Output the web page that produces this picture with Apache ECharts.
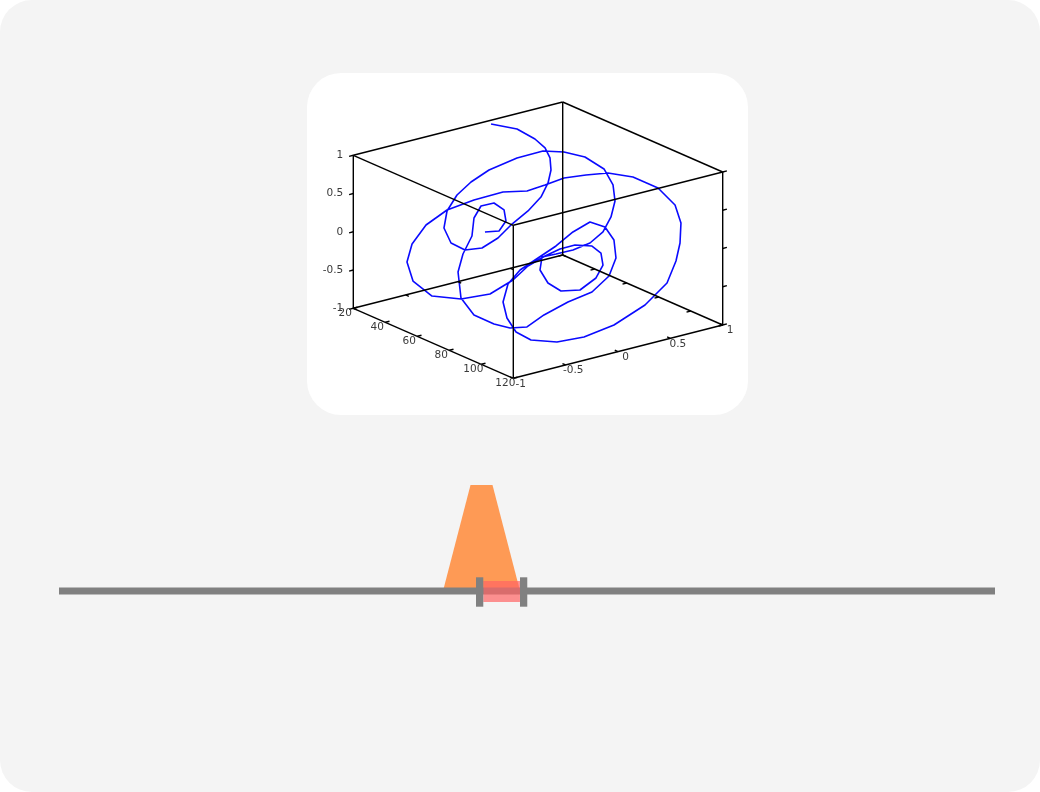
<!DOCTYPE html>
<html><head><meta charset="utf-8">
<script src="https://cdn.jsdelivr.net/npm/echarts@6/dist/echarts.min.js"></script>
<style>html,body{margin:0;padding:0;background:#ffffff}#c{width:1040px;height:792px}</style>
</head><body><div id="c"></div>
<script>
// ---------- data ----------
const xRange = [20, 120];
const yRange = [-1, 1];
const zRange = [-1, 1];
const xTicks = [20, 40, 60, 80, 100, 120];
const yTicks = [-1, -0.5, 0, 0.5, 1];
const zTicks = [-1, -0.5, 0, 0.5, 1];
const xTickLabels = ['20', '40', '60', '80', '100', '120'];
const yTickLabels = ['-1', '-0.5', '0', '0.5', '1'];
const zTickLabels = ['-1', '-0.5', '0', '0.5', '1'];

const curveX = [22,27,34,39,44,49,55,60,65,69, 65,60,55,50,48,49,50,46,42,40,
  40,43,54,68,79,86,85,83,79,73, 70,70,74,81,86,88,84,83,82,79,
  74,70,70,71,75,72,62,48,39,37, 38,43,49,54,54,56,55,55,63,71,
  84,100,105,107,107,105,103,102,108,110, 109,105,99,90,81,75,72,70,70,73,
  79,83,86,87,85,90,92,95,98,96, 87,75,61,53,54,57,58,58,58,62, 67,66,61];
const curveY = [0.285,0.457,0.521,0.541,0.512,0.445,0.325,0.181,-0.019,-0.233,
  -0.306,-0.382,-0.468,-0.525,-0.562,-0.548,-0.468,-0.273,-0.040,0.258,
  0.506,0.661,0.693,0.661,0.579,0.491,0.468,0.422,0.359,0.288,
  0.172,0.038,-0.042,-0.073,-0.025,0.126,0.340,0.422,0.418,0.378,
  0.292,0.210,0.067,-0.111,-0.315,-0.489,-0.613,-0.676,-0.720,-0.747,
  -0.714,-0.657,-0.548,-0.367,-0.090,0.109,0.296,0.478,0.565,0.653,
  0.693,0.688,0.774,0.800,0.791,0.783,0.728,0.533,0.145,-0.172,
  -0.415,-0.602,-0.653,-0.602,-0.502,-0.363,-0.202,0.000,0.172,0.288,
  0.359,0.441,0.481,0.485,0.449,0.210,-0.050,-0.325,-0.533,-0.665,
  -0.680,-0.688,-0.598,-0.504,-0.472,-0.432,-0.428,-0.361,-0.237,-0.202,
  -0.260,-0.311,-0.369];
const curveZ = [0.980,0.900,0.811,0.733,0.658,0.570,0.497,0.409,0.342,0.283,
  0.089,-0.061,-0.103,-0.037,0.153,0.380,0.570,0.636,0.675,0.710,
  0.715,0.675,0.699,0.682,0.602,0.487,0.277,0.079,-0.080,-0.202,
  -0.241,-0.234,-0.339,-0.434,-0.510,-0.531,-0.485,-0.353,-0.204,-0.126,
  -0.129,-0.189,-0.230,-0.290,-0.365,-0.515,-0.629,-0.696,-0.567,-0.327,
  -0.094,0.180,0.393,0.506,0.514,0.477,0.481,0.509,0.591,0.659,
  0.712,0.717,0.510,0.284,0.026,-0.225,-0.512,-0.740,-0.812,-0.840,
  -0.830,-0.775,-0.708,-0.625,-0.533,-0.401,-0.301,-0.233,-0.136,0.034,
  0.195,0.137,-0.019,-0.247,-0.488,-0.568,-0.590,-0.636,-0.693,-0.679,
  -0.704,-0.693,-0.630,-0.396,-0.163,0.086,0.329,0.462,0.458,0.392,
  0.313,0.192,0.153];

const sliderTrack = [0, 1];
const sliderWindow = [0.4533, 0.4925];
const sliderCone = [0.4514];

// ---------- view (orthographic projection of the 3D box) ----------
const VIEW = { ox: 353.3, oy: 308.3, ex: [160, 70], ey: [209.4, -53.3], ez: [0, -153] };
function project(x, y, z) {
  const fx = (x - xRange[0]) / (xRange[1] - xRange[0]);
  const fy = (y - yRange[0]) / (yRange[1] - yRange[0]);
  const fz = (z - zRange[0]) / (zRange[1] - zRange[0]);
  return [VIEW.ox + fx * VIEW.ex[0] + fy * VIEW.ey[0] + fz * VIEW.ez[0],
          VIEW.oy + fx * VIEW.ex[1] + fy * VIEW.ey[1] + fz * VIEW.ez[1]];
}

// box edges
const edges = [];
const X = xRange, Y = yRange, Z = zRange;
for (const y of Y) for (const z of Z) edges.push([project(X[0], y, z), project(X[1], y, z)]);
for (const x of X) for (const z of Z) edges.push([project(x, Y[0], z), project(x, Y[1], z)]);
for (const x of X) for (const y of Y) edges.push([project(x, y, Z[0]), project(x, y, Z[1])]);

// ticks
const tlx = 0.02 * (X[1] - X[0]), tly = 0.02 * (Y[1] - Y[0]);
const ticks = [];
xTicks.forEach(t => {
  ticks.push([project(t, Y[0], Z[0]), project(t, Y[0] + tly, Z[0])]);
  ticks.push([project(t, Y[1], Z[0]), project(t, Y[1] - tly, Z[0])]);
});
yTicks.forEach(t => {
  ticks.push([project(X[1], t, Z[0]), project(X[1] - tlx, t, Z[0])]);
  ticks.push([project(X[0], t, Z[0]), project(X[0] + tlx, t, Z[0])]);
});
zTicks.forEach(t => {
  ticks.push([project(X[0], Y[0], t), project(X[0], Y[0] - tly, t)]);
  ticks.push([project(X[1], Y[1], t), project(X[1], Y[1] + tly, t)]);
});
const segData = edges.concat(ticks).map(s => [s[0][0], s[0][1], s[1][0], s[1][1]]);

// labels
const labelItems = [];
zTicks.forEach((t, i) => labelItems.push({ pos: project(X[0], Y[0], t), text: zTickLabels[i], align: 'right', dx: -10, dy: 0 }));
xTicks.forEach((t, i) => labelItems.push({ pos: project(t, Y[0], Z[0]), text: xTickLabels[i], align: 'center', dx: -8, dy: 4.5 }));
yTicks.forEach((t, i) => labelItems.push({ pos: project(X[1], t, Z[0]), text: yTickLabels[i], align: 'center', dx: 7.5, dy: 5.7 }));

const curveData = curveX.map((x, i) => project(x, curveY[i], curveZ[i]));

const chart = echarts.init(document.getElementById('c'), null, { renderer: 'canvas' });
chart.setOption({
  animation: false,
  backgroundColor: 'transparent',
  graphic: [
    { type: 'rect', z: -10, silent: true, shape: { x: 0, y: 0, width: 1040, height: 792, r: 32 }, style: { fill: '#f4f4f4' } },
    { type: 'rect', z: -9, silent: true, shape: { x: 307, y: 73, width: 441, height: 342, r: 34 }, style: { fill: '#ffffff' } }
  ],
  grid: [
    { left: 0, top: 0, width: 1040, height: 792 },
    { left: 59, top: 480, width: 936, height: 222 }
  ],
  xAxis: [
    { type: 'value', gridIndex: 0, min: 0, max: 1040, show: false },
    { type: 'value', gridIndex: 1, min: 0, max: 1, show: false }
  ],
  yAxis: [
    { type: 'value', gridIndex: 0, min: 0, max: 792, inverse: true, show: false },
    { type: 'value', gridIndex: 1, min: -1, max: 1, show: false }
  ],
  series: [
    {
      type: 'line', xAxisIndex: 0, yAxisIndex: 0, data: curveData, symbol: 'none', showSymbol: false,
      lineStyle: { color: '#0a0aff', width: 1.6 }, z: 2, clip: false, silent: true
    },
    {
      type: 'custom', xAxisIndex: 0, yAxisIndex: 0, data: segData, z: 3, clip: false, silent: true,
      renderItem: (params, api) => {
        const a = api.coord([api.value(0), api.value(1)]);
        const b = api.coord([api.value(2), api.value(3)]);
        return { type: 'line', shape: { x1: a[0], y1: a[1], x2: b[0], y2: b[1] }, style: { stroke: '#000000', lineWidth: 1.4 } };
      }
    },
    {
      type: 'custom', xAxisIndex: 0, yAxisIndex: 0, data: labelItems.map(l => l.pos), z: 4, clip: false, silent: true,
      renderItem: (params, api) => {
        const it = labelItems[params.dataIndex];
        const p = api.coord(it.pos);
        return { type: 'text', x: p[0] + it.dx, y: p[1] + it.dy,
          style: { text: it.text, fill: '#3a3a3a', font: '10.5px "DejaVu Sans"', align: it.align, verticalAlign: 'middle' } };
      }
    },
    // slider: cone
    {
      type: 'custom', xAxisIndex: 1, yAxisIndex: 1, data: sliderCone.map(v => [v, 0]), z: 1, clip: false, silent: true,
      renderItem: (params, api) => {
        const p = api.coord([api.value(0), 0]);
        return { type: 'polygon', shape: { points: [[p[0] - 11, p[1] - 106], [p[0] + 11, p[1] - 106], [p[0] + 38, p[1] - 2], [p[0] - 38, p[1] - 2]] },
          style: { fill: '#fe9a55' } };
      }
    },
    // slider: track
    {
      type: 'line', xAxisIndex: 1, yAxisIndex: 1, data: sliderTrack.map(v => [v, 0]), symbol: 'none', showSymbol: false,
      lineStyle: { color: '#808080', width: 7, cap: 'butt' }, z: 2, clip: false, silent: true
    },
    // slider: window + handles
    {
      type: 'custom', xAxisIndex: 1, yAxisIndex: 1, data: [sliderWindow], z: 3, clip: false, silent: true,
      renderItem: (params, api) => {
        const a = api.coord([api.value(0), 0]);
        const b = api.coord([api.value(1), 0]);
        return { type: 'group', children: [
          { type: 'rect', shape: { x: a[0], y: a[1] - 10, width: b[0] - a[0], height: 21 }, style: { fill: 'rgba(255,100,100,0.7)' } },
          { type: 'rect', shape: { x: a[0] - 7.3, y: a[1] - 13.7, width: 7.3, height: 29.4 }, style: { fill: '#808080' } },
          { type: 'rect', shape: { x: b[0], y: b[1] - 13.7, width: 7.3, height: 29.4 }, style: { fill: '#808080' } }
        ] };
      }
    }
  ]
});
</script>
</body></html>
